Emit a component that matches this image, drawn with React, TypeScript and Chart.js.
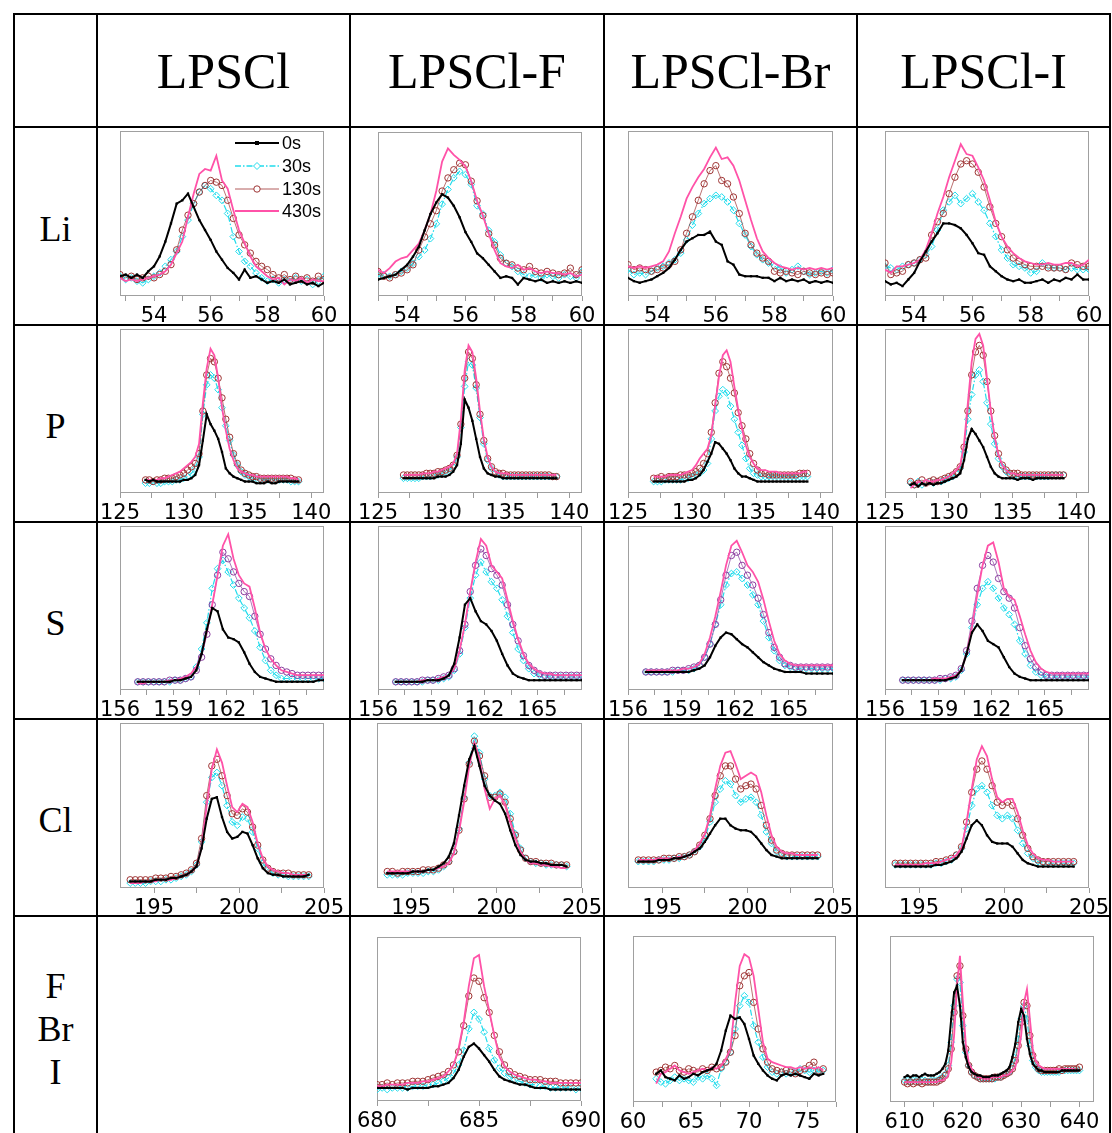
import React, { useEffect, useRef } from "react";
import { Chart, registerables } from "chart.js";
Chart.register(...registerables);

// ---------- table text ----------
const COL_HEADERS = ["LPSCl", "LPSCl-F", "LPSCl-Br", "LPSCl-I"];
const ROW_LABELS = [["Li"], ["P"], ["S"], ["Cl"], ["F", "Br", "I"]];
const LEGEND_LABELS = ["0s", "30s", "130s", "430s"];

// ---------- energy grids (eV) ----------
const E_LI_A = [52.8,53.0,53.2,53.4,53.6,53.8,54.0,54.2,54.4,54.6,54.8,55.0,55.2,55.4,55.6,55.8,56.0,56.2,56.4,56.6,56.8,57.0,57.2,57.4,57.6,57.8,58.0,58.2,58.4,58.6,58.8,59.0,59.2,59.4,59.6,59.8,60.0];
const E_LI = [53.0,53.2,53.4,53.6,53.8,54.0,54.2,54.4,54.6,54.8,55.0,55.2,55.4,55.6,55.8,56.0,56.2,56.4,56.6,56.8,57.0,57.2,57.4,57.6,57.8,58.0,58.2,58.4,58.6,58.8,59.0,59.2,59.4,59.6,59.8,60.0];
const E_P = [127,127.3,127.6,127.9,128.2,128.5,128.8,129.1,129.4,129.7,130,130.3,130.6,130.9,131.2,131.5,131.8,132.1,132.4,132.7,133,133.3,133.6,133.9,134.2,134.5,134.8,135.1,135.4,135.7,136,136.3,136.6,136.9,137.2,137.5,137.8,138.1,138.4,138.7,139];
const E_S = [157,157.3,157.6,157.9,158.2,158.5,158.8,159.1,159.4,159.7,160,160.3,160.6,160.9,161.2,161.5,161.8,162.1,162.4,162.7,163,163.3,163.6,163.9,164.2,164.5,164.8,165.1,165.4,165.7,166,166.3,166.6,166.9,167.2,167.5];
const E_CL = [193.6,193.9,194.2,194.5,194.8,195.1,195.4,195.7,196,196.3,196.6,196.9,197.2,197.5,197.8,198.1,198.4,198.7,199,199.3,199.6,199.9,200.2,200.5,200.8,201.1,201.4,201.7,202,202.3,202.6,202.9,203.2,203.5,203.8,204.1];
const E_F = [680,680.25,680.5,680.75,681,681.25,681.5,681.75,682,682.25,682.5,682.75,683,683.25,683.5,683.75,684,684.25,684.5,684.75,685,685.25,685.5,685.75,686,686.25,686.5,686.75,687,687.25,687.5,687.75,688,688.25,688.5,688.75,689,689.25,689.5,689.75,690];
const E_BR = [62,62.4,62.8,63.2,63.6,64,64.4,64.8,65.2,65.6,66,66.4,66.8,67.2,67.6,68,68.4,68.8,69.2,69.6,70,70.4,70.8,71.2,71.6,72,72.4,72.8,73.2,73.6,74,74.4,74.8,75.2,75.6,76,76.4];
const E_I = [610,610.5,611,611.5,612,612.5,613,613.5,614,614.5,615,615.5,616,616.5,617,617.5,618,618.5,619,619.5,620,620.5,621,621.5,622,622.5,623,623.5,624,624.5,625,625.5,626,626.5,627,627.5,628,628.5,629,629.5,630,630.5,631,631.5,632,632.5,633,633.5,634,634.5,635,635.5,636,636.5,637,637.5,638,638.5,639,639.5,640];

// ---------- intensities (% of panel height) ----------
// Li 1s
const LI1_0 = [12,13,11,13,11,15,18,24,33,44,56,58,62,54,46,40,34,27,22,17,14,10,16,11,12,10,8,9,8,10,7,8,9,7,8,6,8];
const LI1_30 = [12,10,11,9,8,10,12,14,18,22,27,36,46,56,63,67,65,61,58,50,36,27,21,18,14,11,9,10,8,10,9,11,9,10,7,9,12];
const LI1_130 = [13,11,12,10,11,12,11,13,15,19,28,40,49,56,63,67,70,69,67,58,47,37,31,26,21,18,16,13,11,13,10,12,10,11,9,12,10];
const LI1_430 = [11,9,10,9,10,11,12,13,15,19,26,33,48,62,74,77,76,85,70,65,52,40,32,24,18,15,12,10,11,7,10,9,11,8,10,9,9];
const LI2_0 = [10,11,12,13,16,19,24,30,40,50,57,62,60,55,48,39,33,26,23,19,15,11,12,11,7,11,10,9,10,8,9,8,9,8,9,8];
const LI2_30 = [12,13,12,13,15,17,20,24,28,35,44,56,65,72,76,74,68,55,50,40,33,25,20,18,15,13,12,13,11,13,12,11,13,12,11,15];
const LI2_130 = [15,12,11,13,14,16,19,28,36,44,52,64,72,77,81,80,70,58,49,38,31,23,20,19,17,16,18,15,14,15,14,13,14,17,13,16];
const LI2_430 = [16,14,17,21,23,24,28,32,40,50,64,82,90,86,83,79,70,58,49,38,28,20,18,17,19,16,17,15,14,15,14,14,13,14,12,13];
const LI3_0 = [11,9,8,9,10,12,14,17,22,28,33,35,37,37,39,33,31,21,19,13,12,12,12,11,11,9,11,9,10,9,10,8,9,8,9,8];
const LI3_30 = [16,13,14,13,15,17,18,20,22,26,34,43,50,56,59,61,60,57,52,44,37,30,25,22,20,18,17,14,16,18,15,13,14,15,14,16];
const LI3_130 = [19,16,17,16,15,16,17,19,21,28,38,48,58,68,76,79,70,68,60,50,38,31,26,23,21,15,14,15,14,13,15,14,13,14,13,14];
const LI3_430 = [18,17,18,17,18,19,21,27,38,48,59,66,72,77,84,90,83,84,79,70,58,46,35,27,23,20,18,17,16,17,16,17,16,17,16,17];
const LI4_0 = [9,7,8,6,10,14,21,27,33,38,44,44,43,41,37,32,26,25,18,15,12,10,9,10,8,8,9,10,8,10,9,11,10,13,10,10];
const LI4_30 = [18,17,16,18,19,20,22,25,30,40,52,57,61,56,59,62,57,52,44,36,28,23,19,18,17,14,15,20,18,17,17,16,17,16,16,16];
const LI4_130 = [20,13,14,15,19,20,22,23,37,45,50,62,72,80,82,80,75,66,54,44,36,28,23,21,19,18,18,18,17,17,17,16,20,19,18,18];
const LI4_430 = [16,14,18,18,19,20,22,28,38,50,60,72,82,92,86,85,78,70,58,45,36,30,26,23,21,20,19,19,20,19,19,20,20,18,19,22];
// P 2p
const P1_0 = [8,7,8,7,7,7,7,7,7,7,8,8,9,11,17,32,48,42,38,33,25,15,12,10,9,8,7,7,7,6,6,6,7,6,6,7,7,7,7,7,7];
const P1_30 = [6,6,7,6,6,7,7,7,8,8,9,10,12,15,22,48,66,72,70,63,52,41,32,23,17,13,11,10,9,9,8,8,8,8,8,8,8,8,7,7,7];
const P1_130 = [8,8,7,8,8,9,9,9,10,11,12,14,16,18,24,50,72,82,80,70,58,45,34,24,18,14,12,11,10,10,9,9,9,9,9,9,9,9,9,8,8];
const P1_430 = [8,8,8,8,9,9,10,11,12,13,15,17,19,22,30,55,76,88,84,70,52,38,27,20,15,13,12,11,11,10,10,10,10,10,10,10,10,10,9,9,8];
const P2_0 = [9,9,9,9,9,9,9,9,9,10,10,10,11,13,17,30,57,52,44,33,22,15,12,11,10,10,9,9,9,9,9,9,9,9,9,9,9,9,9,9,9];
const P2_30 = [9,9,9,9,9,10,10,10,11,11,12,13,14,16,22,40,65,80,78,64,46,30,20,15,12,11,10,10,10,10,10,10,10,10,10,10,10,10,10,10,10];
const P2_130 = [11,11,11,11,11,11,12,12,12,13,13,14,15,17,23,42,70,86,82,66,48,32,21,16,13,12,12,11,11,11,11,11,11,11,11,11,11,11,11,10,10];
const P2_430 = [11,11,11,11,11,12,12,12,13,13,14,15,16,18,24,45,75,90,86,70,50,33,22,16,13,12,12,12,11,11,11,11,11,11,11,11,11,11,11,11,11];
const P3_0 = [7,7,7,7,7,7,7,7,7,8,8,9,11,14,19,24,31,30,27,24,20,15,12,10,10,9,8,7,7,7,7,7,7,7,7,7,7,7,7,7,7];
const P3_30 = [7,7,7,8,8,8,8,8,9,9,10,11,12,14,18,33,50,59,63,61,53,45,37,29,21,15,12,11,10,10,10,10,10,10,10,10,10,10,10,10,10];
const P3_130 = [9,9,10,9,10,10,10,11,11,11,12,13,15,18,24,37,55,73,80,77,70,61,49,41,33,24,18,14,12,12,11,11,11,11,11,11,11,11,12,12,12];
const P3_430 = [10,10,10,10,11,11,11,11,12,13,14,17,21,24,27,35,53,71,84,87,80,65,51,39,29,22,18,15,14,14,13,13,13,12,12,12,12,12,12,13,13];
const P4_0 = [5,6,4,6,5,6,5,6,6,7,8,9,10,12,20,33,39,36,32,28,22,16,12,10,9,9,9,9,8,9,9,9,8,9,9,9,9,9,9,9,9];
const P4_30 = [6,5,7,5,6,7,6,7,7,8,9,10,12,15,25,45,60,72,75,68,55,42,30,21,16,13,11,10,10,10,10,10,10,10,10,10,10,11,11,11,11];
const P4_130 = [7,5,6,8,6,7,8,7,8,9,10,11,13,16,28,50,72,86,90,84,68,50,35,24,17,14,12,12,12,11,11,11,11,11,11,11,11,11,11,11,11];
const P4_430 = [3,5,7,6,8,7,7,8,8,9,10,12,14,17,30,55,80,94,97,90,70,50,34,23,17,14,12,12,11,11,11,11,11,11,11,11,11,11,11,11,11];
// S 2p
const S1_0 = [5,5,5,5,5,5,5,6,6,7,8,12,22,37,50,48,37,32,31,29,23,16,11,8,7,6,5,5,5,5,5,5,5,5,6,6];
const S1_30 = [5,5,5,5,5,5,5,6,6,7,8,14,25,41,62,74,79,72,64,56,50,44,36,26,18,12,9,7,7,7,7,7,7,7,7,7];
const S1_130 = [5,5,5,5,5,5,6,6,6,7,8,12,20,34,52,70,84,80,72,65,60,57,45,34,25,19,15,12,11,10,9,9,9,9,9,9];
const S1_430 = [4,4,5,5,5,5,6,6,7,8,10,14,22,36,52,70,88,95,80,70,65,63,50,35,25,19,15,12,11,10,9,9,9,9,9,9];
const S2_0 = [5,5,5,5,5,5,6,6,6,7,9,16,32,52,56,48,42,40,36,30,22,15,10,8,7,6,6,6,6,6,6,6,6,6,6,6];
const S2_30 = [5,5,5,5,5,5,6,6,6,7,8,12,22,38,56,70,78,72,66,62,55,45,35,25,18,13,10,9,8,8,8,8,8,8,8,8];
const S2_130 = [5,5,5,5,5,6,6,6,7,8,9,13,24,40,60,76,86,82,74,70,64,52,40,30,21,15,12,10,9,9,9,9,9,9,9,9];
const S2_430 = [5,5,5,5,5,6,6,6,7,8,9,13,24,40,60,78,92,88,76,72,68,55,42,31,22,16,13,11,10,10,9,9,9,9,9,9];
const S3_0 = [11,11,11,11,11,11,11,11,11,12,13,15,20,27,32,35,34,31,28,26,23,20,17,15,13,12,11,11,11,11,10,10,10,10,10,10];
const S3_30 = [11,11,11,11,11,11,12,12,12,13,15,20,28,40,52,64,71,72,68,64,58,52,42,32,24,18,15,14,13,13,13,13,13,13,13,13];
const S3_130 = [11,11,11,11,11,12,12,12,13,14,15,20,28,40,55,70,82,84,76,70,64,56,46,35,26,20,16,15,14,14,14,14,14,14,14,14];
const S3_430 = [12,12,12,12,12,12,12,13,13,14,16,22,32,45,60,76,88,91,84,76,72,66,55,42,30,22,18,16,15,15,15,15,15,15,15,15];
const S4_0 = [6,6,6,6,6,6,6,6,6,7,8,12,22,35,40,36,30,28,26,20,14,10,8,7,6,6,6,6,6,6,6,6,6,6,6,6];
const S4_30 = [6,6,6,6,6,6,6,6,7,7,8,12,22,38,52,62,66,62,56,50,46,40,30,22,15,11,9,8,8,8,8,8,8,8,8,8];
const S4_130 = [6,6,6,6,6,6,6,7,7,8,9,13,24,42,62,76,82,78,68,60,56,50,38,27,19,14,11,9,9,9,9,9,9,9,9,9];
const S4_430 = [6,6,6,6,6,6,7,7,7,8,9,12,22,38,58,76,88,90,78,62,57,55,45,34,24,17,13,11,10,10,10,10,10,10,10,10];
// Cl 2p
const CL1_0 = [4,4,4,4,4,5,5,5,6,6,7,8,10,13,24,42,54,55,43,34,30,31,34,33,26,18,12,9,8,8,7,7,7,7,7,8];
const CL1_30 = [3,3,3,3,4,4,4,5,5,6,7,8,10,14,28,52,67,70,62,50,40,38,43,42,34,24,15,11,9,8,8,7,7,7,7,7];
const CL1_130 = [5,5,5,5,5,6,6,6,7,7,8,9,11,15,30,56,74,78,68,56,45,44,48,46,37,26,17,12,10,9,9,9,8,8,8,8];
const CL1_430 = [3,3,3,4,4,4,5,5,5,6,7,8,10,13,25,50,72,84,76,62,49,46,51,49,40,27,18,13,11,10,9,9,8,8,8,8];
const CL2_0 = [9,9,9,9,9,10,10,10,11,11,13,15,19,27,44,62,78,86,74,62,56,53,51,45,35,26,20,17,16,16,15,15,14,14,14,13];
const CL2_30 = [8,8,8,8,9,9,9,9,10,10,11,13,16,22,36,55,76,92,82,66,56,56,58,55,45,33,24,18,16,15,15,14,14,14,14,13];
const CL2_130 = [10,10,9,10,10,10,10,11,11,11,12,14,16,22,35,54,75,89,80,68,55,55,57,52,42,32,23,18,16,16,15,15,15,14,14,14];
const CL2_430 = [10,10,10,10,10,10,10,10,11,11,12,13,15,21,34,52,74,88,78,60,48,54,56,50,40,30,22,17,15,15,14,14,13,13,12,12];
const CL3_0 = [16,16,16,16,17,17,17,18,18,19,20,22,24,28,33,38,42,42,38,36,35,35,34,31,27,23,20,19,18,18,18,18,18,18,18,18];
const CL3_30 = [16,16,16,16,17,17,17,18,18,19,20,22,25,30,40,52,60,65,63,56,52,54,55,52,44,34,27,22,20,19,19,19,19,19,19,19];
const CL3_130 = [17,17,17,17,17,18,18,18,19,19,20,22,26,32,42,56,68,74,74,66,60,62,63,60,50,38,29,23,21,20,20,20,20,20,20,20];
const CL3_430 = [17,17,17,17,18,18,18,18,19,19,20,23,27,33,44,60,74,82,83,75,66,68,70,68,58,44,32,25,22,21,21,20,20,20,20,20];
const CL4_0 = [13,13,13,13,13,13,13,13,14,14,15,16,18,22,30,38,41,38,32,28,27,27,27,25,21,17,15,14,13,13,13,13,13,13,13,13];
const CL4_30 = [14,14,14,14,14,14,14,14,15,15,16,17,20,24,36,50,60,62,58,50,44,42,44,42,35,27,21,18,16,15,15,15,15,15,15,15];
const CL4_130 = [15,15,15,15,15,15,15,15,16,16,17,18,20,25,40,58,72,77,72,62,52,50,52,50,42,32,24,19,17,16,16,16,16,16,16,16];
const CL4_430 = [14,14,14,14,14,14,15,15,15,16,17,18,20,24,40,60,78,86,80,66,55,52,54,54,46,35,26,21,18,17,17,16,16,16,16,16];
// F 1s
const F_0 = [8,8,8,8,8,8,7,8,8,8,8,9,9,10,11,14,19,27,33,35,32,28,24,19,15,13,12,11,10,10,9,8,8,8,7,7,7,7,7,7,7];
const F_30 = [7,8,7,8,8,8,8,9,9,9,10,10,11,12,14,17,22,31,44,54,50,42,32,25,20,17,15,13,12,11,10,10,9,9,8,8,8,8,8,7,8];
const F_130 = [10,10,11,10,11,11,11,12,12,12,13,14,15,16,18,22,30,46,64,75,73,63,54,40,30,22,18,16,15,14,13,13,13,12,12,12,11,11,11,11,11];
const F_430 = [9,9,10,10,10,10,11,11,11,12,12,13,14,15,18,22,32,48,70,87,89,70,55,40,27,21,18,16,15,14,13,13,12,12,11,11,11,11,11,11,11];
// Br 3d
const BR_0 = [17,19,15,14,13,16,14,15,17,16,18,19,20,23,31,43,52,50,51,47,38,28,23,19,16,14,13,16,17,16,17,16,15,14,17,16,17];
const BR_30 = [14,12,11,13,15,13,14,13,12,15,14,16,14,10,20,24,30,44,58,64,60,46,36,27,21,18,17,18,17,19,18,20,19,18,19,18,19];
const BR_130 = [18,19,21,20,22,19,18,20,19,18,20,19,21,20,21,24,30,40,70,76,78,60,44,32,24,20,19,18,19,18,17,19,20,22,24,19,20];
const BR_430 = [11,17,18,20,22,19,18,17,18,19,20,19,21,20,22,26,32,60,82,89,87,76,56,36,26,24,23,22,21,21,20,21,20,21,20,21,19];
// I 3d
const I_0 = [15,16,15,16,16,15,16,17,16,16,16,17,18,20,23,31,50,66,70,58,36,27,21,18,17,16,16,15,15,15,16,16,16,17,18,19,21,27,35,48,56,52,38,29,23,21,19,19,18,18,18,18,18,18,19,19,19,19,19,19,19];
const I_30 = [13,13,12,13,13,12,13,13,12,13,13,13,14,15,17,22,36,58,74,72,46,30,22,18,16,15,14,14,14,14,14,14,15,15,16,17,18,21,27,38,50,58,50,34,25,21,19,18,18,18,18,18,18,18,19,19,19,19,19,19,19];
const I_130 = [12,11,12,11,12,12,11,12,12,12,12,12,13,14,16,20,32,54,76,82,52,32,22,18,16,15,14,14,14,14,14,15,15,15,16,17,18,20,25,34,48,60,58,40,28,23,20,19,19,19,19,19,19,20,19,20,20,20,20,20,21];
const I_430 = [12,12,12,12,12,12,12,12,12,12,12,12,13,13,14,16,24,40,70,88,60,35,24,20,17,15,15,14,14,14,15,15,15,15,16,16,17,19,21,28,40,60,68,50,32,25,22,21,20,20,20,20,20,20,20,20,20,20,20,19,19];

// ---------- axis ticks ----------
const TICKS_LI = [54, 56, 58, 60];
const TICKS_P = [125, 130, 135, 140];
const TICKS_S = [156, 159, 162, 165];
const TICKS_CL = [195, 200, 205];
const TICKS_F = [680, 685, 690];
const TICKS_BR = [60, 65, 70, 75];
const TICKS_I = [610, 620, 630, 640];

// ---------- layout ----------
const COL_X = [14, 97, 350, 604, 857, 1110];
const ROW_Y = [14, 127, 325, 522, 719, 916, 1133];

type Panel = {
  box: [number, number, number, number];
  range: [number, number];
  major: number[];
  minorStep: number;
  e: number[];
  s: number[][];
  legend?: boolean;
  circ?: string;
};

const PANELS: Panel[] = [
  { box: [120, 130, 204, 166], range: [52.8, 60], major: TICKS_LI, minorStep: 1, e: E_LI_A, s: [LI1_0, LI1_30, LI1_130, LI1_430], legend: true },
  { box: [378, 131, 204, 165], range: [53, 60], major: TICKS_LI, minorStep: 1, e: E_LI, s: [LI2_0, LI2_30, LI2_130, LI2_430] },
  { box: [628, 130, 205, 166], range: [53, 60], major: TICKS_LI, minorStep: 1, e: E_LI, s: [LI3_0, LI3_30, LI3_130, LI3_430] },
  { box: [885, 130, 204, 166], range: [53, 60], major: TICKS_LI, minorStep: 1, e: E_LI, s: [LI4_0, LI4_30, LI4_130, LI4_430] },
  { box: [120, 328, 204, 165], range: [125, 141], major: TICKS_P, minorStep: 2.5, e: E_P, s: [P1_0, P1_30, P1_130, P1_430] },
  { box: [378, 328, 204, 165], range: [125, 141], major: TICKS_P, minorStep: 2.5, e: E_P, s: [P2_0, P2_30, P2_130, P2_430] },
  { box: [628, 328, 205, 165], range: [125, 141], major: TICKS_P, minorStep: 2.5, e: E_P, s: [P3_0, P3_30, P3_130, P3_430] },
  { box: [885, 328, 204, 165], range: [125, 141], major: TICKS_P, minorStep: 2.5, e: E_P, s: [P4_0, P4_30, P4_130, P4_430] },
  { box: [120, 525, 204, 165], range: [156, 167.5], major: TICKS_S, minorStep: 1.5, e: E_S, s: [S1_0, S1_30, S1_130, S1_430], circ: "#8a3d9e" },
  { box: [378, 525, 204, 165], range: [156, 167.5], major: TICKS_S, minorStep: 1.5, e: E_S, s: [S2_0, S2_30, S2_130, S2_430], circ: "#8a3d9e" },
  { box: [628, 525, 205, 165], range: [156, 167.5], major: TICKS_S, minorStep: 1.5, e: E_S, s: [S3_0, S3_30, S3_130, S3_430], circ: "#8a3d9e" },
  { box: [885, 525, 204, 165], range: [156, 167.5], major: TICKS_S, minorStep: 1.5, e: E_S, s: [S4_0, S4_30, S4_130, S4_430], circ: "#8a3d9e" },
  { box: [120, 722, 204, 166], range: [193, 205], major: TICKS_CL, minorStep: 2.5, e: E_CL, s: [CL1_0, CL1_30, CL1_130, CL1_430] },
  { box: [377, 722, 205, 166], range: [193, 205], major: TICKS_CL, minorStep: 2.5, e: E_CL, s: [CL2_0, CL2_30, CL2_130, CL2_430] },
  { box: [628, 722, 205, 166], range: [193, 205], major: TICKS_CL, minorStep: 2.5, e: E_CL, s: [CL3_0, CL3_30, CL3_130, CL3_430] },
  { box: [885, 722, 204, 166], range: [193, 205], major: TICKS_CL, minorStep: 2.5, e: E_CL, s: [CL4_0, CL4_30, CL4_130, CL4_430] },
  { box: [377, 936, 204, 165], range: [680, 690], major: TICKS_F, minorStep: 2.5, e: E_F, s: [F_0, F_30, F_130, F_430] },
  { box: [633, 935, 203, 167], range: [60, 77.5], major: TICKS_BR, minorStep: 2.5, e: E_BR, s: [BR_0, BR_30, BR_130, BR_430] },
  { box: [890, 935, 204, 167], range: [607.5, 642.5], major: TICKS_I, minorStep: 5, e: E_I, s: [I_0, I_30, I_130, I_430] },
];

// ---------- styles ----------
const C_BLACK = "#000000";
const C_CYAN = "#22dcec";
const C_BROWN = "#9e3434";
const C_PINK = "#ff52a8";
const TICK_FONT = { family: "'DejaVu Sans', sans-serif", size: 21 };
const PAD_L = 30, PAD_R = 30, PAD_T = 4, AXIS_H = 38;

const boxPlugin = {
  id: "plotBox",
  beforeDatasetsDraw(chart: any) {
    const { ctx, chartArea: a } = chart;
    ctx.save();
    ctx.strokeStyle = "#a0a0a0";
    ctx.lineWidth = 1;
    ctx.strokeRect(Math.round(a.left) + 0.5, Math.round(a.top) + 0.5, Math.round(a.right - a.left) - 1, Math.round(a.bottom - a.top) - 1);
    ctx.restore();
  },
};

const legendPlugin = {
  id: "insetLegend",
  afterDraw(chart: any) {
    const { ctx, chartArea: a } = chart;
    const rows = [
      { dy: 12, color: C_BLACK, width: 2, dash: [] as number[], marker: "rect" },
      { dy: 35, color: C_CYAN, width: 1.3, dash: [6, 2, 1.5, 2], marker: "diamond" },
      { dy: 58, color: C_BROWN, width: 0.8, dash: [], marker: "circle" },
      { dy: 80, color: C_PINK, width: 1.8, dash: [], marker: "" },
    ];
    ctx.save();
    rows.forEach((r, i) => {
      const y = a.top + r.dy;
      const x0 = a.left + 115, x1 = a.left + 159, xm = (x0 + x1) / 2;
      ctx.strokeStyle = r.color;
      ctx.lineWidth = r.width;
      ctx.setLineDash(r.dash);
      ctx.beginPath();
      ctx.moveTo(x0, y);
      ctx.lineTo(x1, y);
      ctx.stroke();
      ctx.setLineDash([]);
      if (r.marker === "rect") {
        ctx.fillStyle = r.color;
        ctx.fillRect(xm - 2, y - 2, 4, 4);
      } else if (r.marker === "diamond") {
        ctx.fillStyle = "#fff";
        ctx.lineWidth = 1;
        ctx.beginPath();
        ctx.moveTo(xm, y - 3.5);
        ctx.lineTo(xm + 3.5, y);
        ctx.lineTo(xm, y + 3.5);
        ctx.lineTo(xm - 3.5, y);
        ctx.closePath();
        ctx.fill();
        ctx.stroke();
      } else if (r.marker === "circle") {
        ctx.fillStyle = "#fff";
        ctx.lineWidth = 1;
        ctx.beginPath();
        ctx.arc(xm, y, 3.2, 0, Math.PI * 2);
        ctx.fill();
        ctx.stroke();
      }
      ctx.fillStyle = "#000";
      ctx.font = "18px 'Liberation Sans', Arial, sans-serif";
      ctx.textBaseline = "middle";
      ctx.textAlign = "left";
      ctx.fillText(LEGEND_LABELS[i], x1 + 3, y + 1);
    });
    ctx.restore();
  },
};

function SpectrumPanel({ p }: { p: Panel }) {
  const ref = useRef<HTMLCanvasElement>(null);
  const [bx, by, bw, bh] = p.box;
  const W = bw + PAD_L + PAD_R;
  const H = bh + PAD_T + AXIS_H;
  useEffect(() => {
    if (!ref.current) return;
    const pts = (arr: number[]) => arr.map((v, i) => ({ x: p.e[i], y: v }));
    const circ = p.circ || C_BROWN;
    const ticksAll: number[] = [];
    const first = Math.ceil(p.range[0] / p.minorStep - 1e-9) * p.minorStep;
    for (let v = first; v <= p.range[1] + 1e-9; v += p.minorStep) ticksAll.push(Math.round(v * 100) / 100);
    const chart = new Chart(ref.current, {
      type: "line",
      data: {
        datasets: [
          { label: LEGEND_LABELS[0], data: pts(p.s[0]), borderColor: C_BLACK, backgroundColor: C_BLACK, borderWidth: 2, pointStyle: "rect", pointRadius: 1.6, pointBorderWidth: 0, order: 0 },
          { label: LEGEND_LABELS[1], data: pts(p.s[1]), borderColor: C_CYAN, backgroundColor: "rgba(255,255,255,0)", borderWidth: 1.2, borderDash: [6, 2, 1.5, 2], pointStyle: "rectRot", pointRadius: 3.4, pointBorderWidth: 1, pointBorderColor: C_CYAN, order: 3 },
          { label: LEGEND_LABELS[2], data: pts(p.s[2]), borderColor: circ, backgroundColor: "rgba(255,255,255,0)", borderWidth: 0.7, pointStyle: "circle", pointRadius: 3.2, pointBorderWidth: 1, pointBorderColor: circ, order: 2 },
          { label: LEGEND_LABELS[3], data: pts(p.s[3]), borderColor: C_PINK, borderWidth: 1.8, pointRadius: 0, order: 1 },
        ] as any,
      },
      options: {
        responsive: false,
        animation: false,
        devicePixelRatio: 1,
        events: [],
        layout: { padding: { left: PAD_L, right: PAD_R, top: PAD_T, bottom: 0 } },
        elements: { line: { tension: 0 } },
        plugins: { legend: { display: false }, tooltip: { enabled: false } },
        scales: {
          x: {
            type: "linear",
            min: p.range[0],
            max: p.range[1],
            afterBuildTicks: (scale: any) => {
              scale.ticks = ticksAll.map((v) => ({ value: v }));
            },
            afterFit: (scale: any) => {
              scale.height = AXIS_H;
            },
            border: { display: false },
            grid: { display: true, drawOnChartArea: false, drawTicks: true, tickLength: 5, color: "#9a9a9a", lineWidth: 1 },
            ticks: {
              autoSkip: false,
              maxRotation: 0,
              minRotation: 0,
              padding: 3,
              color: "#000",
              font: TICK_FONT,
              callback: (v: any) => (p.major.includes(Number(v)) ? String(v) : ""),
            },
          },
          y: { display: false, min: 0, max: 100 },
        },
      } as any,
      plugins: p.legend ? [boxPlugin, legendPlugin] : [boxPlugin],
    });
    return () => chart.destroy();
  }, []);
  return (
    <canvas
      ref={ref}
      width={W}
      height={H}
      style={{ position: "absolute", left: bx - PAD_L, top: by - PAD_T, width: W, height: H }}
    />
  );
}

export default function App() {
  const lines: React.ReactNode[] = [];
  COL_X.forEach((x, i) =>
    lines.push(<div key={"v" + i} style={{ position: "absolute", left: x - 1, top: ROW_Y[0] - 1, width: 1.5, height: ROW_Y[6] - ROW_Y[0] + 1, background: "#000" }} />)
  );
  ROW_Y.slice(0, 6).forEach((y, i) =>
    lines.push(<div key={"h" + i} style={{ position: "absolute", left: COL_X[0] - 1, top: y - 1, width: COL_X[5] - COL_X[0] + 1.5, height: 1.5, background: "#000" }} />)
  );
  return (
    <div style={{ position: "absolute", left: 0, top: 0, width: 1112, height: 1133, overflow: "hidden", background: "#fff" }}>
      {COL_HEADERS.map((h, i) => (
        <div
          key={h}
          style={{
            position: "absolute",
            left: COL_X[i + 1],
            top: ROW_Y[0],
            width: COL_X[i + 2] - COL_X[i + 1],
            height: ROW_Y[1] - ROW_Y[0],
            display: "flex",
            alignItems: "center",
            justifyContent: "center",
            fontFamily: "'Liberation Serif', 'Times New Roman', serif",
            fontSize: 50,
            color: "#000",
          }}
        >
          {h}
        </div>
      ))}
      {ROW_LABELS.map((lab, i) => (
        <div
          key={lab.join("")}
          style={{
            position: "absolute",
            left: COL_X[0],
            top: ROW_Y[i + 1] + (i === 4 ? 5 : 3),
            width: COL_X[1] - COL_X[0],
            height: ROW_Y[i + 2] - ROW_Y[i + 1],
            display: "flex",
            flexDirection: "column",
            alignItems: "center",
            justifyContent: "center",
            fontFamily: "'Liberation Serif', 'Times New Roman', serif",
            fontSize: 36,
            lineHeight: "43px",
            color: "#000",
          }}
        >
          {lab.map((t) => (
            <div key={t}>{t}</div>
          ))}
        </div>
      ))}
      {PANELS.map((p, i) => (
        <SpectrumPanel key={i} p={p} />
      ))}
      {lines}
    </div>
  );
}
